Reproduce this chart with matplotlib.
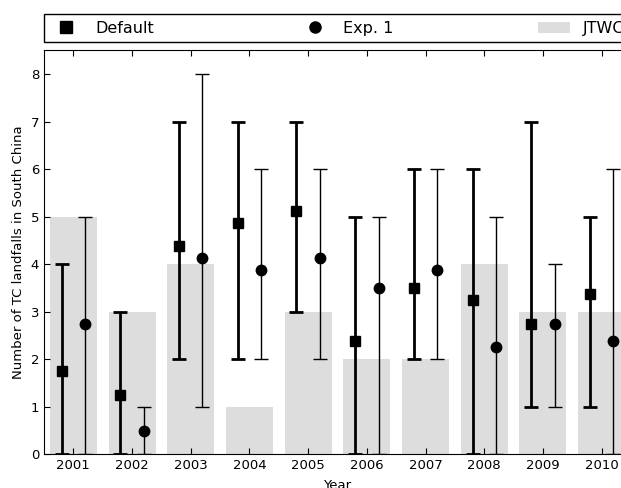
import matplotlib
matplotlib.use("Agg")
import matplotlib.pyplot as plt
from matplotlib.lines import Line2D
from matplotlib.patches import Patch
import numpy as np

years = [2001, 2002, 2003, 2004, 2005, 2006, 2007, 2008, 2009, 2010]

# JTWC observed landfalls
jtwc = [5, 3, 4, 1, 3, 2, 2, 4, 3, 3]

# Default run: mean, min, max
default_mean = [1.75, 1.25, 4.375, 4.875, 5.125, 2.375, 3.5, 3.25, 2.75, 3.375]
default_min = [0, 0, 2, 2, 3, 0, 2, 0, 1, 1]
default_max = [4, 3, 7, 7, 7, 5, 6, 6, 7, 5]

# Exp. 1: mean, min, max
exp1_mean = [2.75, 0.5, 4.125, 3.875, 4.125, 3.5, 3.875, 2.25, 2.75, 2.375]
exp1_min = [0, 0, 1, 2, 2, 0, 2, 0, 1, 0]
exp1_max = [5, 1, 8, 6, 6, 5, 6, 5, 4, 6]

plt.rcParams['font.family'] = 'DejaVu Sans'
plt.rcParams['xtick.direction'] = 'in'
plt.rcParams['ytick.direction'] = 'in'

fig = plt.figure(figsize=(6.21, 4.88), dpi=100)
ax = fig.add_axes([44 / 621, 1 - 454.3 / 488, 587 / 621, 404 / 488])

x = np.array(years)
bar_col = '#dcdddc'
ax.bar(x, jtwc, width=0.8, color=bar_col, edgecolor='none', zorder=1)

d_mean = np.array(default_mean)
e_mean = np.array(exp1_mean)
d_err = [d_mean - np.array(default_min), np.array(default_max) - d_mean]
e_err = [e_mean - np.array(exp1_min), np.array(exp1_max) - e_mean]

ax.errorbar(x - 0.2, d_mean, yerr=d_err, fmt='s', color='black', ms=7.5,
            elinewidth=2, capsize=5, capthick=2, zorder=3)
ax.errorbar(x + 0.2, e_mean, yerr=e_err, fmt='o', color='black', ms=7.5,
            elinewidth=1, capsize=5, capthick=1, zorder=3)

ax.set_xlim(2000.5, 2010.5)
ax.set_ylim(0, 8.5)
ax.set_xticks(years)
ax.set_yticks(range(9))
ax.tick_params(labelsize=9.5, length=4, top=True, right=True)
ax.set_xlabel('Year', fontsize=9.5, labelpad=5)
ax.set_ylabel('Number of TC landfalls in South China', fontsize=9.5)

handles = [Line2D([], [], marker='s', color='black', ls='none', ms=8),
           Line2D([], [], marker='o', color='black', ls='none', ms=8),
           Patch(facecolor=bar_col, edgecolor='none')]
leg = ax.legend(handles, ['Default', 'Exp. 1', 'JTWC'], bbox_to_anchor=(0, 1.02, 1, 0.102),
                loc=3, ncol=3, mode='expand', borderaxespad=0, fontsize=11.5,
                fancybox=False, framealpha=1, edgecolor='black')
leg.get_frame().set_linewidth(1)

fig.savefig('out.png', dpi=100)
